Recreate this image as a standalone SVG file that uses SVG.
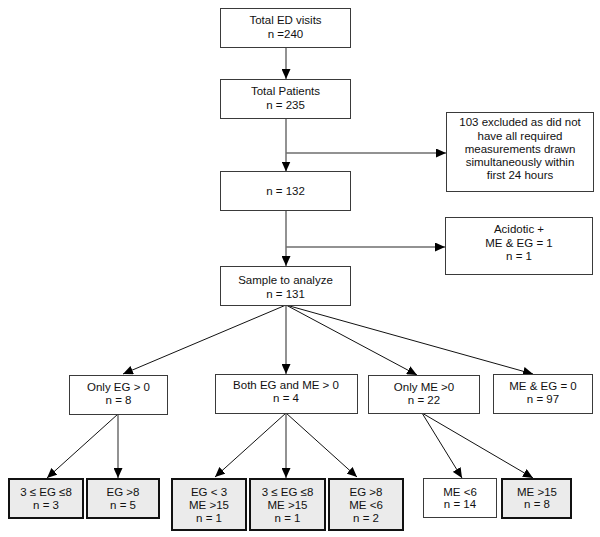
<svg xmlns="http://www.w3.org/2000/svg" width="600" height="537" viewBox="0 0 600 537">
<style>
.box{fill:#fff;stroke:#3a3a3a;stroke-width:1}
.leaf{fill:#ebebeb;stroke:#111;stroke-width:2}
.t{font-family:"Liberation Sans",Arial,sans-serif;font-size:11.5px;fill:#111;text-anchor:middle}
.main{fill:none;stroke:#6e6e6e;stroke-width:1.5}
.diag{fill:none;stroke:#111;stroke-width:1}
</style>
<defs>
<marker id="ah" markerUnits="userSpaceOnUse" markerWidth="10" markerHeight="9" refX="10" refY="4.5" orient="auto">
<path d="M0,0 L10,4.5 L0,9 z" fill="#000"/>
</marker>
</defs>
<rect width="600" height="537" fill="#fff"/>
<g id="connectors">
<line class="main" x1="286" y1="47.5" x2="286" y2="79" marker-end="url(#ah)"/>
<line class="main" x1="286" y1="118.5" x2="286" y2="171.5" marker-end="url(#ah)"/>
<line class="main" x1="286" y1="153" x2="446" y2="153" marker-end="url(#ah)"/>
<line class="main" x1="286" y1="210.5" x2="286" y2="266" marker-end="url(#ah)"/>
<line class="main" x1="286" y1="247" x2="445" y2="247" marker-end="url(#ah)"/>
<line class="diag" x1="286" y1="305" x2="123" y2="374" marker-end="url(#ah)"/>
<line class="main" x1="286" y1="305" x2="286" y2="374" marker-end="url(#ah)"/>
<line class="diag" x1="286" y1="305" x2="417" y2="375" marker-end="url(#ah)"/>
<line class="diag" x1="286" y1="305" x2="533" y2="374" marker-end="url(#ah)"/>
<line class="diag" x1="118" y1="414" x2="47" y2="478" marker-end="url(#ah)"/>
<line class="main" x1="118" y1="414" x2="118" y2="478" marker-end="url(#ah)"/>
<line class="diag" x1="286" y1="413" x2="215" y2="477" marker-end="url(#ah)"/>
<line class="main" x1="286" y1="413" x2="286" y2="478" marker-end="url(#ah)"/>
<line class="diag" x1="286" y1="413" x2="357" y2="477" marker-end="url(#ah)"/>
<line class="diag" x1="422" y1="413" x2="462" y2="478" marker-end="url(#ah)"/>
<line class="diag" x1="422" y1="413" x2="533" y2="478" marker-end="url(#ah)"/>
</g>
<g id="visits"><rect class="box" x="220.5" y="8.5" width="130" height="39"/>
<text class="t" x="285.5" y="24">Total ED visits</text><text class="t" x="285.5" y="37.5">n =240</text></g>
<g id="patients"><rect class="box" x="220.5" y="79.5" width="130" height="39"/>
<text class="t" x="285.5" y="95">Total Patients</text><text class="t" x="285.5" y="108.5">n = 235</text></g>
<g id="excluded"><rect class="box" x="446.5" y="112.5" width="147" height="79"/>
<text class="t" x="520" y="126">103 excluded as did not</text>
<text class="t" x="520" y="139.5">have all required</text>
<text class="t" x="520" y="152.5">measurements drawn</text>
<text class="t" x="520" y="166">simultaneously within</text>
<text class="t" x="520" y="179">first 24 hours</text></g>
<g id="n132"><rect class="box" x="220.5" y="171.5" width="130" height="39"/>
<text class="t" x="285.5" y="195">n = 132</text></g>
<g id="acidotic"><rect class="box" x="445.5" y="217.5" width="147" height="57"/>
<text class="t" x="519" y="233">Acidotic +</text>
<text class="t" x="519" y="246.5">ME &amp; EG = 1</text>
<text class="t" x="519" y="260">n = 1</text></g>
<g id="sample"><rect class="box" x="220.5" y="266.5" width="130" height="39"/>
<text class="t" x="285.5" y="284">Sample to analyze</text><text class="t" x="285.5" y="297.5">n = 131</text></g>
<g id="onlyEG"><rect class="box" x="69.5" y="375.5" width="98" height="39"/>
<text class="t" x="118.5" y="391">Only EG &gt; 0</text><text class="t" x="118.5" y="404">n = 8</text></g>
<g id="both"><rect class="box" x="215.5" y="374.5" width="142" height="39"/>
<text class="t" x="286" y="389">Both EG and ME &gt; 0</text><text class="t" x="286" y="402">n = 4</text></g>
<g id="onlyME"><rect class="box" x="368.5" y="375.5" width="111" height="38"/>
<text class="t" x="424" y="391">Only ME &gt;0</text><text class="t" x="424" y="404">n = 22</text></g>
<g id="none"><rect class="box" x="493.5" y="374.5" width="99" height="39"/>
<text class="t" x="543" y="390">ME &amp; EG = 0</text><text class="t" x="543" y="403">n = 97</text></g>
<g id="L1"><rect class="leaf" x="9" y="479" width="74" height="39"/>
<text class="t" x="46" y="496">3 ≤ EG ≤8</text><text class="t" x="46" y="508.5">n = 3</text></g>
<g id="L2"><rect class="leaf" x="87" y="479" width="72" height="39"/>
<text class="t" x="123" y="496">EG &gt;8</text><text class="t" x="123" y="508.5">n = 5</text></g>
<g id="M1"><rect class="leaf" x="172" y="479" width="74" height="51"/>
<text class="t" x="209" y="496">EG &lt; 3</text><text class="t" x="209" y="508.5">ME &gt;15</text><text class="t" x="209" y="521.5">n = 1</text></g>
<g id="M2"><rect class="leaf" x="250" y="479" width="75" height="51"/>
<text class="t" x="287.5" y="496">3 ≤ EG ≤8</text><text class="t" x="287.5" y="508.5">ME &gt;15</text><text class="t" x="287.5" y="521.5">n = 1</text></g>
<g id="M3"><rect class="leaf" x="329" y="479" width="74" height="51"/>
<text class="t" x="366" y="496">EG &gt;8</text><text class="t" x="366" y="508.5">ME &lt;6</text><text class="t" x="366" y="521.5">n = 2</text></g>
<g id="R1"><rect class="box" x="423.5" y="478.5" width="73" height="39"/>
<text class="t" x="460" y="496">ME &lt;6</text><text class="t" x="460" y="508">n = 14</text></g>
<g id="R2"><rect class="leaf" x="502" y="479" width="69" height="39"/>
<text class="t" x="537" y="496">ME &gt;15</text><text class="t" x="537" y="508">n = 8</text></g>
</svg>
